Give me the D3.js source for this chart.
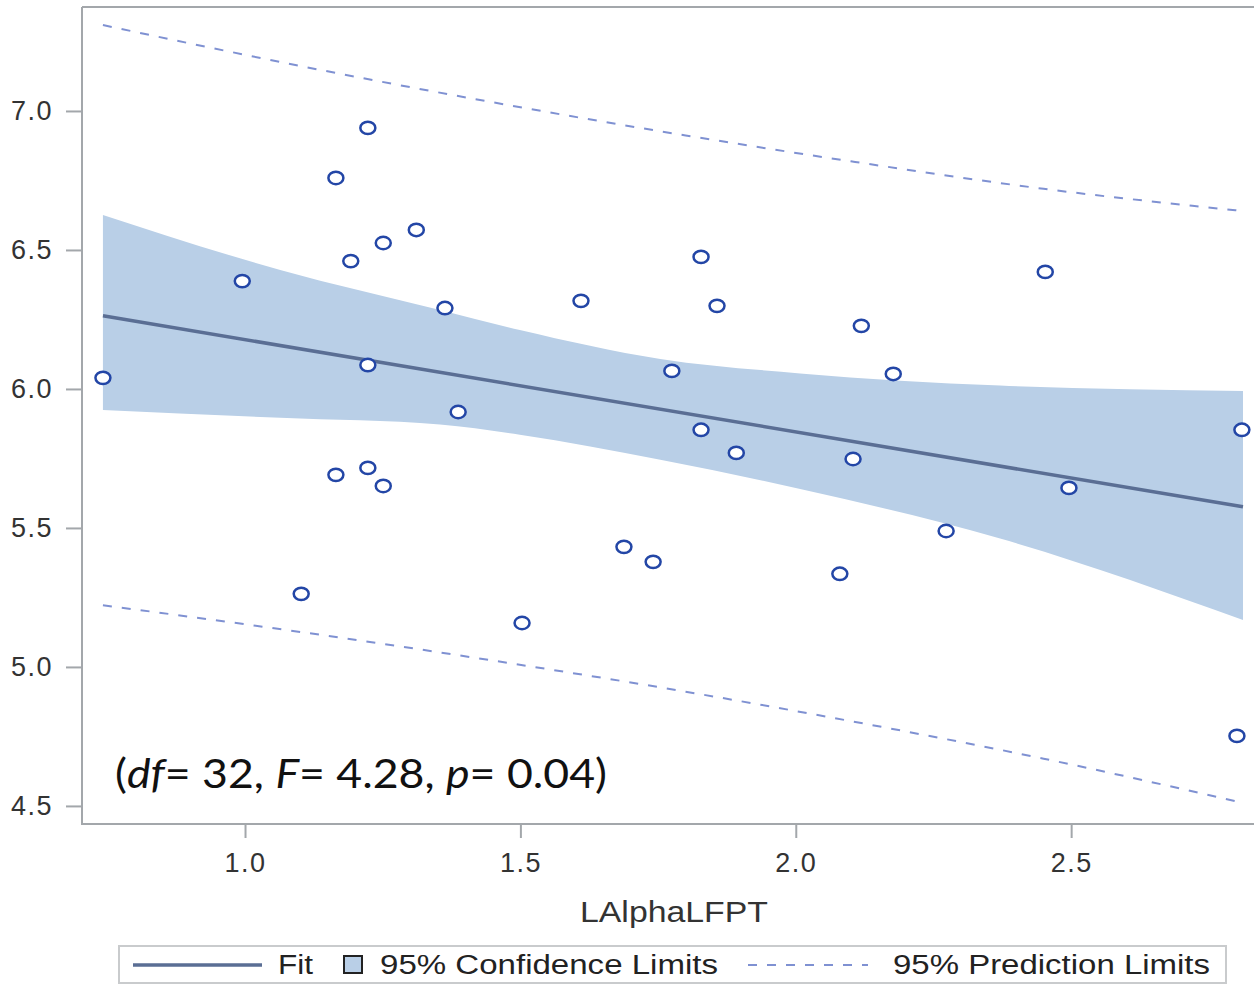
<!DOCTYPE html>
<html lang="en">
<head>
    <meta charset="utf-8" />
    <title>LAlphaLFPT fit</title>
    <style>
        body { margin: 0; background: #fff; }
        svg { display: block; }
    </style>
</head>
<body>
<script src="https://d3js.org/d3.v7.min.js"></script>
<div id="my_dataviz"></div>
<script>
    // observed points
    const xObs = [0.742, 0.995, 1.102, 1.165, 1.165, 1.192, 1.223, 1.223, 1.223, 1.251, 1.251,
        1.311, 1.363, 1.387, 1.503, 1.610, 1.688, 1.741, 1.775, 1.828, 1.828, 1.857, 1.892,
        2.080, 2.104, 2.119, 2.177, 2.273, 2.453, 2.496, 2.810, 2.801];
    const yObs = [6.040, 6.388, 5.263, 6.759, 5.691, 6.460, 6.939, 6.086, 5.716, 6.525, 5.651,
        6.572, 6.291, 5.917, 5.158, 6.317, 5.432, 5.378, 6.065, 6.475, 5.853, 6.299, 5.770,
        5.335, 5.748, 6.227, 6.054, 5.489, 6.421, 5.644, 5.853, 4.752];

    // fit line
    const fitX = [0.742, 2.812];
    const fitY = [6.263, 5.576];

    // 95% confidence band
    const clX     = [0.742, 1.064, 1.354, 1.499, 1.754, 2.008, 2.371, 2.812];
    const clUpper = [6.626, 6.428, 6.284, 6.212, 6.108, 6.056, 6.012, 5.993];
    const clLower = [5.924, 5.896, 5.872, 5.835, 5.745, 5.640, 5.462, 5.169];

    // 95% prediction limits
    const plX     = [0.742, 1.100, 1.450, 1.800, 2.100, 2.450, 2.812];
    const plUpper = [7.309, 7.162, 7.031, 6.912, 6.819, 6.720, 6.640];
    const plLower = [5.222, 5.126, 5.023, 4.911, 4.805, 4.670, 4.511];

    const yTicks = [4.5, 5.0, 5.5, 6.0, 6.5, 7.0];
    const xTicks = [1.0, 1.5, 2.0, 2.5];
    const legendLabels = ["Fit", "95% Confidence Limits", "95% Prediction Limits"];

    const W = 1254, H = 985;
    const plot = {left: 82, top: 7, right: 1254, bottom: 824};

    const x = d3.scaleLinear().domain([0.704, 2.832]).range([plot.left, plot.right]);
    const y = d3.scaleLinear().domain([4.435, 7.374]).range([plot.bottom, plot.top]);

    const svg = d3.select("#my_dataviz")
        .append("svg")
        .attr("width", W)
        .attr("height", H)
        .style("font-family", "'Liberation Sans', Arial, sans-serif");

    svg.append("rect").attr("width", W).attr("height", H).attr("fill", "#fff");

    svg.append("clipPath").attr("id", "clip")
        .append("rect")
        .attr("x", plot.left).attr("y", plot.top)
        .attr("width", plot.right - plot.left + 10).attr("height", plot.bottom - plot.top);

    const g = svg.append("g").attr("clip-path", "url(#clip)");

    // confidence band
    const band = clX.map((d, i) => ({x: d, lo: clLower[i], hi: clUpper[i]}));
    g.append("path")
        .datum(band)
        .attr("fill", "#b9cfe7")
        .attr("d", d3.area().curve(d3.curveMonotoneX)
            .x(d => x(d.x)).y0(d => y(d.lo)).y1(d => y(d.hi)));

    // prediction limits
    const line = d3.line().x(d => x(d[0])).y(d => y(d[1]));
    const smooth = d3.line().curve(d3.curveMonotoneX).x(d => x(d[0])).y(d => y(d[1]));
    [plUpper, plLower].forEach(arr => {
        g.append("path")
            .datum(plX.map((d, i) => [d, arr[i]]))
            .attr("fill", "none")
            .attr("stroke", "#7f91d2")
            .attr("stroke-width", 2)
            .attr("stroke-dasharray", "9,10")
            .attr("d", smooth);
    });

    // fit
    g.append("path")
        .datum(fitX.map((d, i) => [d, fitY[i]]))
        .attr("fill", "none")
        .attr("stroke", "#5a6e94")
        .attr("stroke-width", 3.5)
        .attr("d", line);

    // points
    g.selectAll("ellipse.pt")
        .data(xObs.map((d, i) => [d, yObs[i]]))
        .join("ellipse")
        .attr("class", "pt")
        .attr("cx", d => x(d[0]))
        .attr("cy", d => y(d[1]))
        .attr("rx", 7.5)
        .attr("ry", 6.2)
        .attr("fill", "#fff")
        .attr("stroke", "#2346a6")
        .attr("stroke-width", 2.5);

    // frame
    svg.append("path")
        .attr("d", `M${plot.left},${plot.top}H${W + 5}M${plot.left},${plot.top}V${plot.bottom}H${W + 5}`)
        .attr("fill", "none")
        .attr("stroke", "#a3a7ab")
        .attr("stroke-width", 2);

    // axes
    const yAxis = svg.append("g")
        .attr("transform", `translate(${plot.left},0)`)
        .call(d3.axisLeft(y).tickValues(yTicks).tickFormat(d3.format(".1f")).tickSize(16).tickPadding(13));
    const xAxis = svg.append("g")
        .attr("transform", `translate(0,${plot.bottom})`)
        .call(d3.axisBottom(x).tickValues(xTicks).tickFormat(d3.format(".1f")).tickSize(14).tickPadding(15));

    [yAxis, xAxis].forEach(a => {
        a.select(".domain").remove();
        a.selectAll(".tick line").attr("stroke", "#a3a7ab").attr("stroke-width", 2);
        a.selectAll(".tick text")
            .attr("fill", "#333")
            .style("font-size", "27px")
            .style("letter-spacing", "1.5px")
            .style("font-family", "'Liberation Sans', Arial, sans-serif");
    });

    // axis title
    svg.append("text")
        .attr("x", 674).attr("y", 922)
        .attr("text-anchor", "middle")
        .attr("fill", "#333")
        .style("font-size", "29px")
        .attr("textLength", 188)
        .attr("lengthAdjust", "spacingAndGlyphs")
        .text("LAlphaLFPT");

    // stats annotation
    const ann = svg.append("text")
        .attr("x", 115).attr("y", 788)
        .attr("fill", "#111")
        .style("font-family", "Lato, 'Open Sans', sans-serif")
        .style("font-size", "40px")
        .attr("textLength", 492)
        .attr("lengthAdjust", "spacingAndGlyphs");
    [["(", false], ["df", true], ["= 32, ", false], ["F", true], ["= 4.28, ", false],
     ["p", true], ["= 0.04)", false]].forEach(([t, it]) => {
        ann.append("tspan").style("font-style", it ? "italic" : "normal").text(t);
    });

    // legend
    const lg = svg.append("g");
    lg.append("rect")
        .attr("x", 119).attr("y", 946).attr("width", 1107).attr("height", 37)
        .attr("fill", "#fff").attr("stroke", "#c9cbcd").attr("stroke-width", 2);
    lg.append("line")
        .attr("x1", 133).attr("x2", 262).attr("y1", 965).attr("y2", 965)
        .attr("stroke", "#5a6e94").attr("stroke-width", 3.5);
    lg.append("rect")
        .attr("x", 344).attr("y", 956).attr("width", 18).attr("height", 17)
        .attr("fill", "#b9cfe7").attr("stroke", "#222").attr("stroke-width", 2);
    lg.append("line")
        .attr("x1", 748).attr("x2", 868).attr("y1", 965).attr("y2", 965)
        .attr("stroke", "#7f91d2").attr("stroke-width", 2).attr("stroke-dasharray", "9,10");
    const legText = [[278, 35], [380, 338], [893, 317]];
    legendLabels.forEach((t, i) => {
        lg.append("text")
            .attr("x", legText[i][0]).attr("y", 974)
            .attr("fill", "#222")
            .style("font-size", "27px")
            .attr("textLength", legText[i][1])
            .attr("lengthAdjust", "spacingAndGlyphs")
            .text(t);
    });
</script>
</body>
</html>
